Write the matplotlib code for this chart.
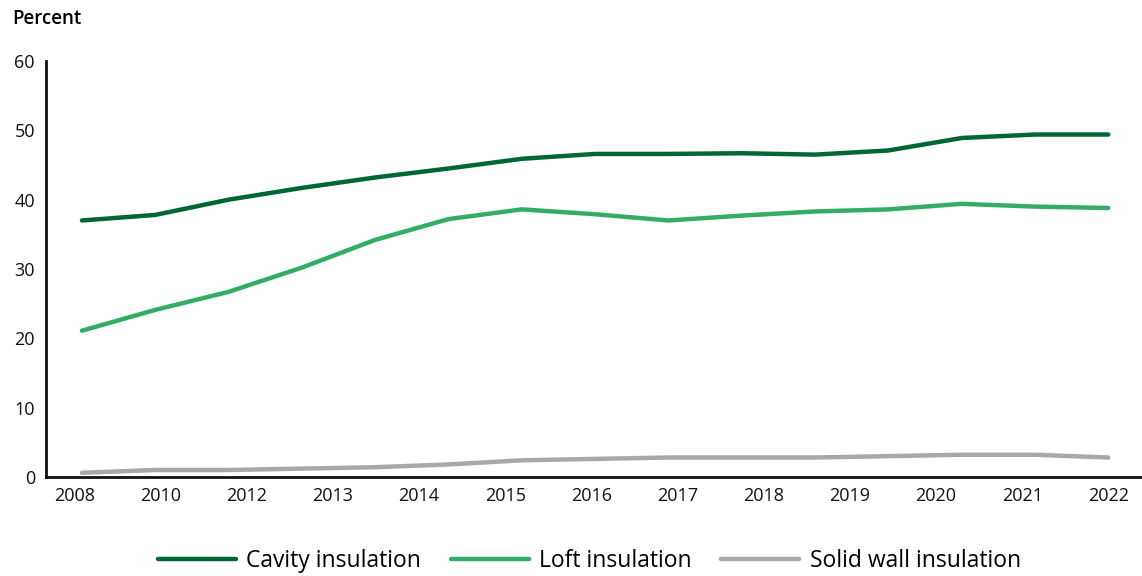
import numpy as np
import matplotlib.pyplot as plt

# values, one point per year 2008-2022
years = np.arange(2008, 2023)
cavity = [37.0, 37.8, 40.0, 41.7, 43.2, 44.5, 45.9, 46.6, 46.6, 46.7, 46.5, 47.1, 48.9, 49.4, 49.4]
loft = [21.1, 24.1, 26.7, 30.2, 34.2, 37.2, 38.6, 37.9, 37.0, 37.7, 38.3, 38.6, 39.4, 39.0, 38.8]
solid_wall = [0.6, 1.0, 1.0, 1.2, 1.4, 1.8, 2.4, 2.6, 2.8, 2.8, 2.8, 3.0, 3.2, 3.2, 2.8]
tick_labels = ['2008', '2010', '2012', '2013', '2014', '2015', '2016',
               '2017', '2018', '2019', '2020', '2021', '2022']

plt.rcParams['font.family'] = ['Open Sans', 'DejaVu Sans']

fig = plt.figure(figsize=(11.42, 5.76), dpi=100)
ax = fig.add_axes([0.0403, 0.172, 0.9597, 0.722])

x = np.arange(len(years))
ax.plot(x, cavity, color='#006633', lw=3.2, solid_capstyle='round', label='Cavity insulation')
ax.plot(x, loft, color='#33ad64', lw=3.2, solid_capstyle='round', label='Loft insulation')
ax.plot(x, solid_wall, color='#a8a8a8', lw=3.2, solid_capstyle='round', label='Solid wall insulation')

ax.set_ylim(0, 60)
ax.set_xlim(-0.49, 14.46)
ax.set_yticks(range(0, 61, 10))
ax.set_xticks(np.linspace(-0.1, 14, len(tick_labels)))
ax.set_xticklabels(tick_labels)
ax.tick_params(axis='both', length=0, labelsize=13, colors='#111111')
ax.tick_params(axis='x', pad=7)
ax.tick_params(axis='y', pad=8)

for side in ['top', 'right']:
    ax.spines[side].set_visible(False)
for side in ['left', 'bottom']:
    ax.spines[side].set_linewidth(2)
    ax.spines[side].set_color('#111111')

fig.text(0.0105, 0.967, 'Percent', fontsize=13.5, fontweight='semibold', va='center', ha='left')

fig.legend(loc='center', bbox_to_anchor=(0.516, 0.026), ncol=3, frameon=False,
           fontsize=16.5, handlelength=3.4, handletextpad=0.45, columnspacing=1.3)

fig.savefig('out.png', dpi=100)
